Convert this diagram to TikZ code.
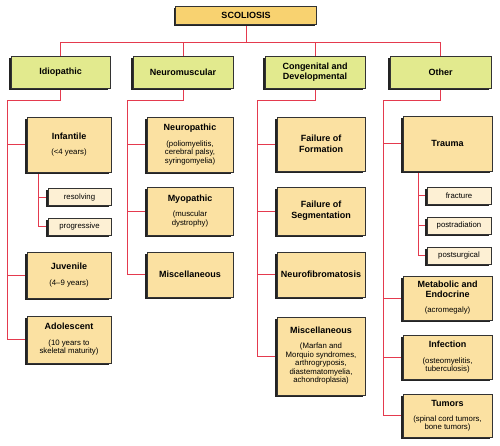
\documentclass[tikz,border=0pt]{standalone}
\usepackage{fontspec}
\setmainfont{Liberation Sans}
\usetikzlibrary{shadows}
\definecolor{linkred}{RGB}{228,58,78}
\definecolor{scfill}{RGB}{248,210,112}
\definecolor{grfill}{RGB}{226,234,142}
\definecolor{tnfill}{RGB}{251,225,162}
\definecolor{smfill}{RGB}{253,240,212}
\definecolor{shadc}{RGB}{35,35,35}
\newcommand\bxttl[1]{{\fontsize{9}{11}\selectfont\bfseries #1}}
\pgfdeclarelayer{bg}
\pgfsetlayers{bg,main}
\begin{document}
\begin{tikzpicture}[x=1pt,y=-1pt,
  box/.style={draw=black!80, line width=0.5pt, inner sep=1pt, align=center,
    font=\fontsize{7.8}{8.5}\selectfont,
    drop shadow={shadow xshift=-2pt, shadow yshift=-2pt, opacity=1, fill=shadc}},
  topbox/.style={box, fill=scfill, minimum width=141pt, minimum height=18pt},
  catbox/.style={box, fill=grfill, minimum height=32pt},
  itembox/.style={box, fill=tnfill},
  idbox/.style={itembox, minimum width=84pt},
  nmbox/.style={itembox, minimum width=86pt},
  cgbox/.style={itembox, minimum width=88pt},
  otbox/.style={itembox, minimum width=89pt},
  subbox/.style={box, fill=smfill, minimum height=17pt},
  link/.style={draw=linkred, line width=0.8pt}]
\useasboundingbox (0,0) rectangle (500,446);

% top
\node[topbox] (sc) at (246,15) {\bxttl{SCOLIOSIS}};

% categories
\node[catbox, minimum width=99pt] (idio) at (60.5,72) {\bxttl{Idiopathic}};
\node[catbox, minimum width=100pt] (neuro) at (183,72) {\bxttl{Neuromuscular}};
\node[catbox, minimum width=100pt] (cong) at (315,72) {\bxttl{Congenital and}\\[1.5pt]\bxttl{Developmental}};
\node[catbox, minimum width=101pt] (oth) at (440.5,72) {\bxttl{Other}};

% idiopathic
\node[idbox, minimum height=55pt] (inf) at (69,144.5) {\bxttl{Infantile}\\[6.5pt](<4 years)};
\node[subbox, minimum width=63pt] (res) at (79.5,197) {resolving};
\node[subbox, minimum width=63pt] (prog) at (79.5,226.5) {progressive};
\node[idbox, minimum height=46pt] (juv) at (69,275) {\bxttl{Juvenile}\\[7pt](4–9 years)};
\node[idbox, minimum height=47pt] (adol) at (69,339.5) {\bxttl{Adolescent}\\[7pt](10 years to\\skeletal maturity)};

% neuromuscular
\node[nmbox, minimum height=55pt] (neurop) at (190,144.5) {\bxttl{Neuropathic}\\[7pt](poliomyelitis,\\cerebral palsy,\\syringomyelia)};
\node[nmbox, minimum height=48pt] (myop) at (190,211) {\bxttl{Myopathic}\\[6.5pt](muscular\\dystrophy)};
\node[nmbox, minimum height=45pt] (nmisc) at (190,274.5) {\bxttl{Miscellaneous}};

% congenital
\node[cgbox, minimum height=54pt] (fof) at (321,144) {\bxttl{Failure of}\\[2.5pt]\bxttl{Formation}};
\node[cgbox, minimum height=48pt] (fos) at (321,211) {\bxttl{Failure of}\\[2.5pt]\bxttl{Segmentation}};
\node[cgbox, minimum height=45pt] (nf) at (321,274.5) {\bxttl{Neurofibromatosis}};
\node[cgbox, minimum height=78pt] (cmisc) at (321,356) {\bxttl{Miscellaneous}\\[6.5pt](Marfan and\\Morquio syndromes,\\arthrogryposis,\\diastematomyelia,\\achondroplasia)};

% other
\node[otbox, minimum height=55pt] (trauma) at (447.5,143.5) {\bxttl{Trauma}};
\node[subbox, minimum width=64pt] (fract) at (459,195.5) {fracture};
\node[subbox, minimum width=64pt] (postrad) at (459,225.5) {postradiation};
\node[subbox, minimum width=64pt] (postsurg) at (459,255.5) {postsurgical};
\node[otbox, minimum height=44pt] (meta) at (447.5,298) {\bxttl{Metabolic and}\\[1.5pt]\bxttl{Endocrine}\\[6.5pt](acromegaly)};
\node[otbox, minimum height=44pt] (infec) at (447.5,357) {\bxttl{Infection}\\[7.5pt](osteomyelitis,\\tuberculosis)};
\node[otbox, minimum height=43pt] (tum) at (447.5,415.5) {\bxttl{Tumors}\\[6.5pt](spinal cord tumors,\\bone tumors)};

% helper coordinates
\coordinate (busA) at (0,42);
\coordinate (cI) at (7,100);
\coordinate (cN) at (127,100);
\coordinate (cC) at (257,100);
\coordinate (cO) at (383,100);
\coordinate (sI) at (38,0);
\coordinate (sT) at (418,0);

\begin{pgfonlayer}{bg}
\draw[link] (idio.north) |- (oth.north |- busA) -- (oth.north);
\draw[link] (sc.south) -- (sc.south |- busA);
\draw[link] (neuro.north) -- (neuro.north |- busA);
\draw[link] (cong.north) -- (cong.north |- busA);

\draw[link] (idio.south) |- (cI) |- (adol.west);
\draw[link] (cI |- inf.west) -- (inf.west);
\draw[link] (cI |- juv.west) -- (juv.west);
\draw[link] (inf.south -| sI) |- (prog.west);
\draw[link] (sI |- res.west) -- (res.west);

\draw[link] (neuro.south) |- (cN) |- (nmisc.west);
\draw[link] (cN |- neurop.west) -- (neurop.west);
\draw[link] (cN |- myop.west) -- (myop.west);

\draw[link] (cong.south) |- (cC) |- (cmisc.west);
\draw[link] (cC |- fof.west) -- (fof.west);
\draw[link] (cC |- fos.west) -- (fos.west);
\draw[link] (cC |- nf.west) -- (nf.west);

\draw[link] (oth.south) |- (cO) |- (tum.west);
\draw[link] (cO |- trauma.west) -- (trauma.west);
\draw[link] (cO |- meta.west) -- (meta.west);
\draw[link] (cO |- infec.west) -- (infec.west);
\draw[link] (trauma.south -| sT) |- (postsurg.west);
\draw[link] (sT |- fract.west) -- (fract.west);
\draw[link] (sT |- postrad.west) -- (postrad.west);
\end{pgfonlayer}
\end{tikzpicture}
\end{document}
